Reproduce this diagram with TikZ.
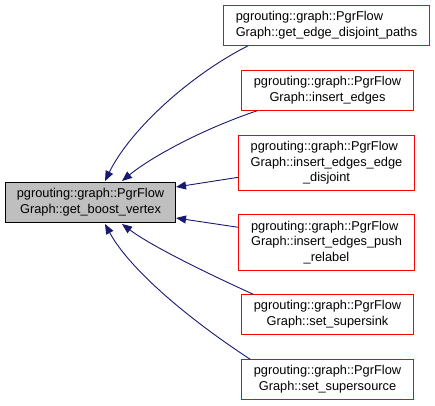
\documentclass[tikz,border=0pt]{standalone}
\usepackage{fontspec}
\setmainfont{Liberation Sans}
\usetikzlibrary{arrows.meta}
\definecolor{edgeblue}{HTML}{191970}
\definecolor{boxgray}{HTML}{BFBFBF}
\definecolor{boxred}{HTML}{FF0000}
\begin{document}
\begin{tikzpicture}[x=1pt,y=-1pt,
  box/.style={inner sep=0pt, anchor=center,
    font=\fontsize{12.8}{15.6}\selectfont},
  mainbox/.style={box, draw=black, line width=1pt, fill=boxgray},
  edge/.style={draw=edgeblue, line width=0.9pt, -{Triangle[length=10pt,width=8pt]}},
  frame/.style={draw=boxred, line width=1.2pt}]
\fill[white] (0,0) rectangle (435,405);
\useasboundingbox (0,0) rectangle (435,405);
\node[mainbox, minimum width=170pt, minimum height=40pt] (main) at (90.5,202.5)
  {\begin{tabular}{@{}c@{}}pgrouting::graph::PgrFlow\\Graph::get\_boost\_vertex\end{tabular}};
\node[box, minimum width=206pt, minimum height=40pt] (b1) at (326.5,25.5)
  {\begin{tabular}{@{}l@{}}pgrouting::graph::PgrFlow\\Graph::get\_edge\_disjoint\_paths\end{tabular}};
\node[box, minimum width=172pt, minimum height=40pt] (b2) at (327.5,90.5)
  {\begin{tabular}{@{}c@{}}pgrouting::graph::PgrFlow\\Graph::insert\_edges\end{tabular}};
\node[box, minimum width=176pt, minimum height=55pt] (b3) at (326.5,163)
  {\begin{tabular}{@{}l@{}}pgrouting::graph::PgrFlow\\Graph::insert\_edges\_edge\\\multicolumn{1}{@{}c@{}}{\_disjoint}\end{tabular}};
\node[box, minimum width=176pt, minimum height=56pt] (b4) at (326.5,242.5)
  {\begin{tabular}{@{}l@{}}pgrouting::graph::PgrFlow\\Graph::insert\_edges\_push\\\multicolumn{1}{@{}c@{}}{\_relabel}\end{tabular}};
\node[box, minimum width=172pt, minimum height=40pt] (b5) at (327.5,314.5)
  {\begin{tabular}{@{}c@{}}pgrouting::graph::PgrFlow\\Graph::set\_supersink\end{tabular}};
\node[box, minimum width=172pt, minimum height=40pt] (b6) at (327.5,379.5)
  {\begin{tabular}{@{}c@{}}pgrouting::graph::PgrFlow\\Graph::set\_supersource\end{tabular}};
\foreach \b in {b1,b2,b3,b4,b5,b6}
  \draw[frame] (\b.south west) rectangle (\b.north east);
% endpoints
\coordinate (m1) at ([xshift=100pt,yshift=1pt]main.north west);
\coordinate (m2) at ([xshift=117pt,yshift=1pt]main.north west);
\coordinate (m3) at ([yshift=-5pt]main.north east);
\coordinate (m4) at ([yshift=5pt]main.south east);
\coordinate (m5) at ([xshift=117pt,yshift=-1pt]main.south west);
\coordinate (m6) at ([xshift=100pt,yshift=-1pt]main.south west);
\coordinate (s1) at ([xshift=25pt]b1.south west);
\coordinate (s2) at ([xshift=16pt]b2.south west);
\coordinate (s3) at ([yshift=-42pt]b3.north west);
\coordinate (s4) at ([yshift=-13pt]b4.north west);
\coordinate (s5) at ([xshift=12pt]b5.north west);
\coordinate (s6) at ([xshift=9pt]b6.north west);
\draw[edge] (s1) .. controls (190,75) and (130,130) .. (m1);
\draw[edge] (s2) .. controls (200,130) and (150,158) .. (m2);
\draw[edge] (s3) -- (m3);
\draw[edge] (s4) -- (m4);
\draw[edge] (s5) .. controls (200,270) and (150,245) .. (m5);
\draw[edge] (s6) .. controls (190,320) and (130,270) .. (m6);
\end{tikzpicture}
\end{document}
